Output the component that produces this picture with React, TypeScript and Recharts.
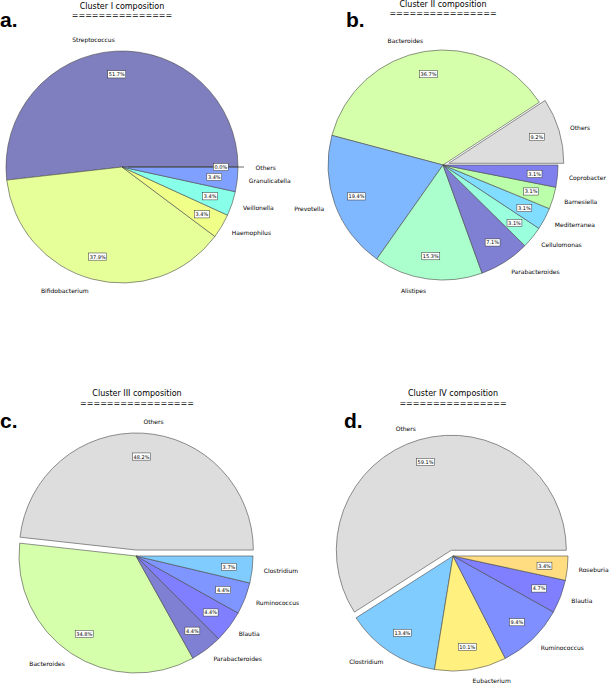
import React from 'react';
import { PieChart, Pie, Cell, Sector } from 'recharts';

// Cluster I
const clusterINames = ['Streptococcus', 'Bifidobacterium', 'Haemophilus', 'Veillonella', 'Granulicatella', 'Others'];
const clusterIValues = [51.7, 37.9, 3.4, 3.4, 3.4, 0.0];
const clusterIColors = ['#7f7fbf', '#e6ff99', '#f0ff88', '#88ffe8', '#80a0ff', '#dddddd'];

// Cluster II
const clusterIINames = ['Others', 'Bacteroides', 'Prevotella', 'Alistipes', 'Parabacteroides', 'Cellulomonas', 'Mediterranea', 'Barnesiella', 'Coprobacter'];
const clusterIIValues = [9.2, 36.7, 19.4, 15.3, 7.1, 3.1, 3.1, 3.1, 3.1];
const clusterIIColors = ['#dddddd', '#d5ffaa', '#80b8ff', '#aaffcc', '#7f7fd4', '#99ffdd', '#80ddff', '#bbffaa', '#7f7fee'];

// Cluster III
const clusterIIINames = ['Others', 'Bacteroides', 'Parabacteroides', 'Blautia', 'Ruminococcus', 'Clostridium'];
const clusterIIIValues = [48.2, 34.8, 4.4, 4.4, 4.4, 3.7];
const clusterIIIColors = ['#dddddd', '#d5ffaa', '#7f7fd4', '#7f7fff', '#7f95ff', '#80ccff'];

// Cluster IV
const clusterIVNames = ['Others', 'Clostridium', 'Eubacterium', 'Ruminococcus', 'Blautia', 'Roseburia'];
const clusterIVValues = [59.1, 13.4, 10.1, 9.4, 4.7, 3.4];
const clusterIVColors = ['#dddddd', '#80ccff', '#fff080', '#7f8fff', '#7f7fff', '#ffdd80'];

const FONT = '"DejaVu Sans", sans-serif';
const RAD = Math.PI / 180;
const EXPLODE = 6;

const buildData = (names: string[], values: number[]) =>
  names.map((name, i) => ({ name, value: values[i] }));

const shift = (midAngle: number, on: boolean) =>
  on ? { dx: EXPLODE * Math.cos(-midAngle * RAD), dy: EXPLODE * Math.sin(-midAngle * RAD) } : { dx: 0, dy: 0 };

// slice drawn by hand so the "Others" wedge can be pulled out like matplotlib's explode
const makeShape = (explodeName: string) => (props: any) => {
  const { cx, cy, startAngle, endAngle, outerRadius, fill, name, payload } = props;
  const nm = payload?.name ?? name;
  const mid = (startAngle + endAngle) / 2;
  const on = nm === explodeName;
  const { dx, dy } = shift(mid, on);
  if (startAngle === endAngle) {
    const x2 = cx + dx + outerRadius * Math.cos(-mid * RAD);
    const y2 = cy + dy + outerRadius * Math.sin(-mid * RAD);
    return <line x1={cx + dx} y1={cy + dy} x2={x2} y2={y2} stroke="#444" strokeWidth={0.8} />;
  }
  return (
    <Sector
      cx={cx + dx}
      cy={cy + dy}
      innerRadius={0}
      outerRadius={outerRadius}
      startAngle={startAngle}
      endAngle={endAngle}
      fill={fill}
      stroke={on ? '#8a8a8a' : '#4a4a4a'}
      strokeWidth={on ? 1 : 0.6}
    />
  );
};

const makeLabel = (explodeName: string) => (props: any) => {
  const { cx, cy, midAngle, outerRadius, name, value } = props;
  const { dx, dy } = shift(midAngle, name === explodeName);
  const c = Math.cos(-midAngle * RAD);
  const s = Math.sin(-midAngle * RAD);
  const lx = cx + dx + outerRadius * 1.1 * c;
  const ly = cy + dy + outerRadius * 1.1 * s;
  const px = cx + dx + outerRadius * 0.8 * c;
  const py = cy + dy + outerRadius * 0.8 * s;
  const pct = `${Number(value).toFixed(1)}%`;
  const w = pct.length * 3.1 + 2.5;
  return (
    <g>
      <text
        x={lx}
        y={ly}
        textAnchor={c > 0 ? 'start' : 'end'}
        dominantBaseline="central"
        fontFamily={FONT}
        fontSize={6}
        fill="#000"
      >
        {name}
      </text>
      <rect x={px - w / 2} y={py - 3.6} width={w} height={7.2} fill="#fff" stroke="#333" strokeWidth={0.5} />
      <text x={px} y={py} textAnchor="middle" dominantBaseline="central" fontFamily={FONT} fontSize={5} fill="#000">
        {pct}
      </text>
    </g>
  );
};

const panels = [
  { names: clusterINames, values: clusterIValues, colors: clusterIColors, cx: 122, cy: 167, r: 116, explode: 'Others' },
  { names: clusterIINames, values: clusterIIValues, colors: clusterIIColors, cx: 443, cy: 165, r: 115, explode: 'Others' },
  { names: clusterIIINames, values: clusterIIIValues, colors: clusterIIIColors, cx: 136, cy: 556, r: 117, explode: 'Others' },
  { names: clusterIVNames, values: clusterIVValues, colors: clusterIVColors, cx: 453, cy: 556, r: 115, explode: 'Others' },
];

const titles = [
  { text: 'Cluster I composition', eq: 15, x: 122, y: 9, y2: 17.5 },
  { text: 'Cluster II composition', eq: 16, x: 443, y: 7, y2: 16 },
  { text: 'Cluster III composition', eq: 17, x: 137, y: 396, y2: 406 },
  { text: 'Cluster IV composition', eq: 16, x: 453, y: 396, y2: 405.5 },
];

const letters = [
  { text: 'a.', x: 0, y: 27 },
  { text: 'b.', x: 346, y: 27 },
  { text: 'c.', x: 0, y: 428 },
  { text: 'd.', x: 344, y: 428 },
];

export default function App() {
  return (
    <div style={{ position: 'absolute', left: 0, top: 0, width: 615, height: 685, background: '#fff' }}>
      <PieChart width={615} height={685} margin={{ top: 0, right: 0, bottom: 0, left: 0 }}>
        {panels.map((p, k) => {
          const shape = makeShape(p.explode);
          const extra: any = { shape, inactiveShape: shape, activeShape: shape };
          return (
            <Pie
              key={k}
              data={buildData(p.names, p.values)}
              dataKey="value"
              nameKey="name"
              cx={p.cx}
              cy={p.cy}
              outerRadius={p.r}
              startAngle={0}
              endAngle={360}
              isAnimationActive={false}
              labelLine={false}
              label={makeLabel(p.explode)}
              {...extra}
            >
              {p.colors.map((c, i) => (
                <Cell key={i} fill={c} />
              ))}
            </Pie>
          );
        })}
      </PieChart>
      <svg width={615} height={685} style={{ position: 'absolute', left: 0, top: 0, pointerEvents: 'none' }}>
        {titles.map((t, i) => (
          <g key={i}>
            <text x={t.x} y={t.y} textAnchor="middle" fontFamily={FONT} fontSize={8} fill="#000">
              {t.text}
            </text>
            <text x={t.x} y={t.y2} textAnchor="middle" fontFamily={FONT} fontSize={8} fill="#000">
              {'='.repeat(t.eq)}
            </text>
          </g>
        ))}
        {letters.map((l, i) => (
          <text key={i} x={l.x} y={l.y} fontFamily='"Liberation Sans", Arial, sans-serif' fontWeight="bold" fontSize={21} fill="#000">
            {l.text}
          </text>
        ))}
      </svg>
    </div>
  );
}
